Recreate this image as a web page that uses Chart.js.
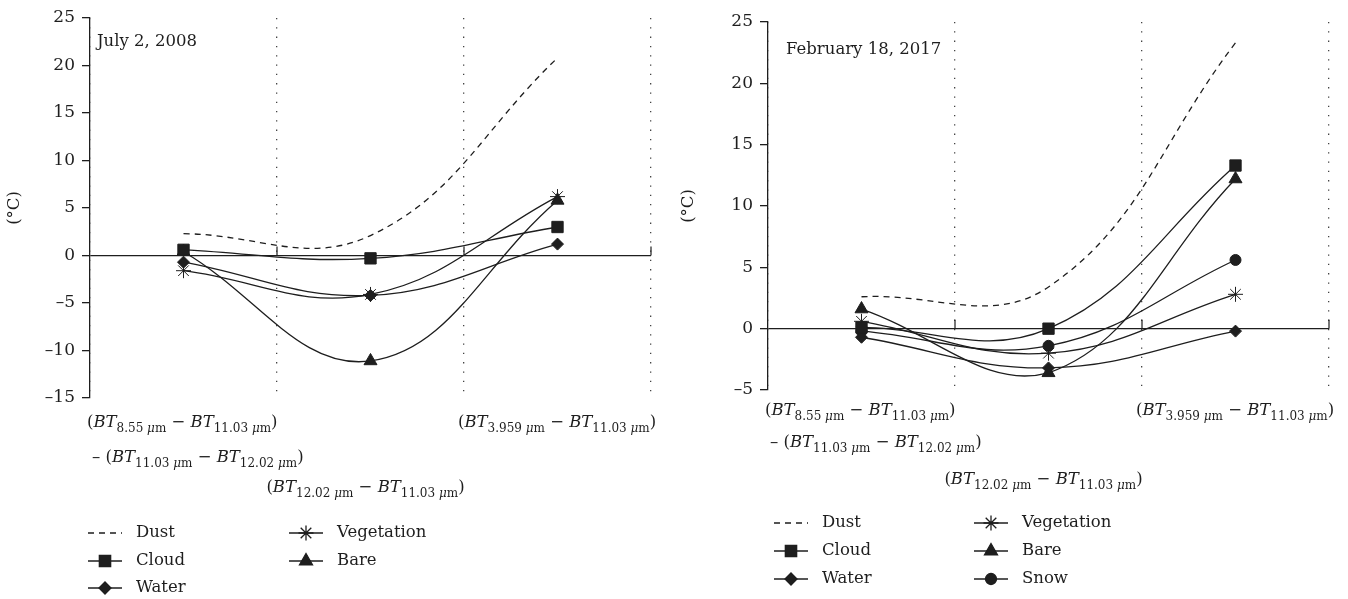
<!DOCTYPE html>
<html>
<head>
<meta charset="utf-8">
<script src="https://cdn.jsdelivr.net/npm/chart.js"></script>
<style>
  body { margin: 0; background: #fff; }
  .box { position: absolute; top: 0; width: 674px; height: 599px; }
</style>
</head>
<body>
<div class="box" style="left:0"><canvas id="chart2008" width="674" height="599"></canvas></div>
<div class="box" style="left:674px"><canvas id="chart2017" width="674" height="599"></canvas></div>
<script>
// category labels, _{..} = subscript
const categories = [
  ['(BT_{8.55 μm} − BT_{11.03 μm})', '– (BT_{11.03 μm} − BT_{12.02 μm})'],
  ['(BT_{12.02 μm} − BT_{11.03 μm})'],
  ['(BT_{3.959 μm} − BT_{11.03 μm})']
];

// July 2, 2008
const dust2008 = [2.3, 2.1, 20.8];
const cloud2008 = [0.6, -0.3, 3.0];
const water2008 = [-0.7, -4.2, 1.2];
const vegetation2008 = [-1.6, -4.1, 6.2];
const bare2008 = [0.4, -11.1, 5.8];

// February 18, 2017
const dust2017 = [2.6, 3.4, 23.3];
const cloud2017 = [0.1, 0.0, 13.3];
const water2017 = [-0.7, -3.2, -0.2];
const vegetation2017 = [0.6, -2.0, 2.8];
const bare2017 = [1.6, -3.6, 12.2];
const snow2017 = [-0.2, -1.4, 5.6];

const yTicks2008 = [-15, 25, 5];
const yTicks2017 = [-5, 25, 5];

const FONT = '"DejaVu Serif", serif';
const INK = '#1e1e1e';

const styles = {
  Dust: { pointStyle: false, radius: 0, dash: [6, 5] },
  Cloud: { pointStyle: 'rect', radius: 8 },
  Water: { pointStyle: 'rectRot', radius: 6 },
  Vegetation: { pointStyle: 'star', radius: 7.5 },
  Bare: { pointStyle: 'triangle', radius: 7.5 },
  Snow: { pointStyle: 'circle', radius: 5.5 }
};

function makeSet(name, data) {
  const s = styles[name];
  return {
    label: name,
    data: data,
    borderColor: INK,
    backgroundColor: INK,
    borderWidth: 1.3,
    borderDash: s.dash || [],
    tension: 0.4,
    pointStyle: s.pointStyle,
    pointRadius: s.radius,
    pointBackgroundColor: INK,
    pointBorderColor: INK,
    pointBorderWidth: 1
  };
}

// split "BT_{8.55 μm}" style strings into runs
function runs(str, size) {
  const out = [];
  const main = t => t.split(/(BT)/).forEach(p => {
    if (p) out.push({ t: p, font: (p === 'BT' ? 'italic ' : '') + size + 'px ' + FONT, dy: 0 });
  });
  const sub = t => t.split(/(μ)/).forEach(p => {
    if (p) out.push({ t: p, font: (p === 'μ' ? 'italic ' : '') + Math.round(size * 0.72) + 'px ' + FONT, dy: size * 0.38 });
  });
  const re = /_\{([^}]*)\}/g;
  let last = 0, m;
  while ((m = re.exec(str))) {
    main(str.slice(last, m.index));
    sub(m[1]);
    last = re.lastIndex;
  }
  main(str.slice(last));
  return out;
}

function drawRich(ctx, str, x, y, align, size) {
  const parts = runs(str, size);
  let w = 0;
  parts.forEach(p => { ctx.font = p.font; p.w = ctx.measureText(p.t).width; w += p.w; });
  let cx = align === 'center' ? x - w / 2 : x;
  ctx.textAlign = 'left';
  ctx.textBaseline = 'middle';
  parts.forEach(p => {
    ctx.font = p.font;
    ctx.fillText(p.t, cx, y + p.dy);
    cx += p.w;
  });
}

const extras = {
  id: 'extras',
  afterDraw(chart, args, o) {
    const ctx = chart.ctx;
    const xs = chart.scales.x;
    const ys = chart.scales.y;
    const area = chart.chartArea;
    const half = (xs.getPixelForValue(1) - xs.getPixelForValue(0)) / 2;
    ctx.save();
    ctx.fillStyle = INK;
    ctx.strokeStyle = INK;

    // small ticks on the zero line
    const y0 = ys.getPixelForValue(0);
    ctx.lineWidth = 1.2;
    for (let i = 0; i < chart.data.labels.length; i++) {
      const gx = xs.getPixelForValue(i) + half;
      ctx.beginPath();
      ctx.moveTo(gx, y0);
      ctx.lineTo(gx, y0 - 9);
      ctx.stroke();
    }

    // date note
    ctx.font = '16.5px ' + FONT;
    ctx.textAlign = 'left';
    ctx.textBaseline = 'middle';
    ctx.fillText(o.note, o.noteX, o.noteY);

    // category labels
    const lab = chart.data.labels;
    const b = area.bottom;
    const fs = 16.5;
    drawRich(ctx, lab[0][0], xs.getPixelForValue(0) - half - 3, b + o.line1, 'left', fs);
    drawRich(ctx, lab[0][1], xs.getPixelForValue(0) - half + 2, b + o.line2, 'left', fs);
    drawRich(ctx, lab[1][0], xs.getPixelForValue(1) - 5, b + o.line3, 'center', fs);
    drawRich(ctx, lab[2][0], xs.getPixelForValue(2) - half - 6, b + o.line1, 'left', fs);

    // legend, filled column by column
    chart.data.datasets.forEach((ds, i) => {
      const col = Math.floor(i / 3), row = i % 3;
      const cx = o.legendX[col], cy = o.legendY[row];
      ctx.lineWidth = 1.3;
      ctx.setLineDash(ds.borderDash);
      ctx.beginPath();
      ctx.moveTo(cx - 17, cy);
      ctx.lineTo(cx + 17, cy);
      ctx.stroke();
      ctx.setLineDash([]);
      if (ds.pointStyle) {
        Chart.helpers.drawPoint(ctx, {
          pointStyle: ds.pointStyle, radius: ds.pointRadius, rotation: 0, borderWidth: 1
        }, cx, cy);
      }
      ctx.font = '16.5px ' + FONT;
      ctx.textAlign = 'left';
      ctx.textBaseline = 'middle';
      ctx.fillText(ds.label, cx + 31, cy);
    });
    ctx.restore();
  }
};

function makeChart(id, sets, yRange, pad, axisW, extra) {
  return new Chart(document.getElementById(id), {
    type: 'line',
    data: { labels: categories, datasets: sets },
    plugins: [extras],
    options: {
      responsive: false,
      animation: false,
      events: [],
      layout: { padding: pad },
      plugins: {
        legend: { display: false },
        tooltip: { enabled: false },
        extras: extra
      },
      scales: {
        x: {
          offset: true,
          afterFit: s => { s.height = 0; },
          ticks: { display: false },
          grid: { offset: true, color: '#444', lineWidth: 1.3, drawTicks: false },
          border: { display: false, dash: [1.3, 8] }
        },
        y: {
          min: yRange[0],
          max: yRange[1],
          afterFit: s => { s.width = axisW; },
          ticks: {
            stepSize: yRange[2],
            color: INK,
            font: { family: FONT, size: 17 },
            padding: 7,
            callback: v => String(v).replace('-', '–')
          },
          grid: {
            color: c => c.tick && c.tick.value === 0 ? INK : 'transparent',
            lineWidth: 1.3,
            tickColor: INK,
            tickLength: 8
          },
          border: { display: true, color: INK, width: 1.3 },
          title: { display: true, text: '(°C)', color: INK, font: { family: FONT, size: 16.5 }, padding: { top: 5, bottom: 0 } }
        }
      }
    }
  });
}

makeChart('chart2008', [
  makeSet('Dust', dust2008),
  makeSet('Cloud', cloud2008),
  makeSet('Water', water2008),
  makeSet('Vegetation', vegetation2008),
  makeSet('Bare', bare2008)
], yTicks2008, { left: 0, right: 23, top: 18, bottom: 201 }, 90, {
  note: 'July 2, 2008', noteX: 97, noteY: 42,
  line1: 25, line2: 60, line3: 90,
  legendX: [105, 306], legendY: [533, 561, 588]
});

makeChart('chart2017', [
  makeSet('Dust', dust2017),
  makeSet('Cloud', cloud2017),
  makeSet('Water', water2017),
  makeSet('Vegetation', vegetation2017),
  makeSet('Bare', bare2017),
  makeSet('Snow', snow2017)
], yTicks2017, { left: 0, right: 19, top: 22, bottom: 209 }, 94, {
  note: 'February 18, 2017', noteX: 112, noteY: 50,
  line1: 21, line2: 53, line3: 90,
  legendX: [117, 317], legendY: [523, 551, 579]
});
</script>
</body>
</html>
